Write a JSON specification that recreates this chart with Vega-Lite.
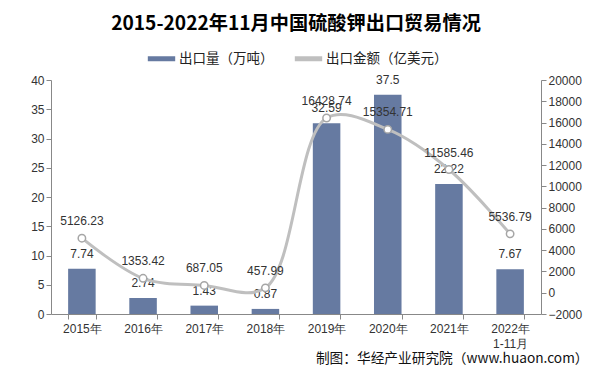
{
  "$schema": "https://vega.github.io/schema/vega-lite/v6.json",
  "width": 490,
  "height": 234,
  "padding": {"left": 30, "right": 10, "top": 14, "bottom": 6},
  "background": "white",
  "title": {
    "text": "2015-2022年11月中国硫酸钾出口贸易情况",
    "font": "Noto Sans CJK SC",
    "fontSize": 19.2,
    "fontWeight": "bold",
    "color": "#000000",
    "anchor": "middle",
    "offset": 8
  },
  "data": {
    "values": [
      {"year": "2015年", "vol": 7.74, "amt": 5126.23, "volLabel": "7.74", "amtLabel": "5126.23"},
      {"year": "2016年", "vol": 2.74, "amt": 1353.42, "volLabel": "2.74", "amtLabel": "1353.42"},
      {"year": "2017年", "vol": 1.43, "amt": 687.05, "volLabel": "1.43", "amtLabel": "687.05"},
      {"year": "2018年", "vol": 0.87, "amt": 457.99, "volLabel": "0.87", "amtLabel": "457.99"},
      {"year": "2019年", "vol": 32.59, "amt": 16428.74, "volLabel": "32.59", "amtLabel": "16428.74"},
      {"year": "2020年", "vol": 37.5, "amt": 15354.71, "volLabel": "37.5", "amtLabel": "15354.71"},
      {"year": "2021年", "vol": 22.22, "amt": 11585.46, "volLabel": "22.22", "amtLabel": "11585.46"},
      {"year": "2022年\n1-11月", "vol": 7.67, "amt": 5536.79, "volLabel": "7.67", "amtLabel": "5536.79"}
    ]
  },
  "encoding": {
    "x": {
      "field": "year",
      "type": "nominal",
      "sort": null,
      "scale": {"paddingInner": 0.55, "paddingOuter": 0.28},
      "axis": {
        "labelAngle": 0,
        "labelExpr": "split(datum.label, '\\n')",
        "labelFont": "Liberation Sans",
        "labelFontSize": 12,
        "labelColor": "#333333",
        "labelLineHeight": 15,
        "labelPadding": 4,
        "domainColor": "#888888",
        "tickColor": "#888888",
        "tickBand": "extent",
        "ticks": true,
        "tickSize": 5,
        "title": "制图：华经产业研究院（www.huaon.com）",
        "titleFont": "Noto Sans CJK SC",
        "titleFontSize": 13.7,
        "titleFontWeight": "normal",
        "titleColor": "#111111",
        "titleAnchor": "end",
        "titleAlign": "right",
        "titleX": 537,
        "titlePadding": 2
      }
    }
  },
  "layer": [
    {
      "mark": {"type": "bar", "color": "#667AA1"},
      "encoding": {
        "y": {
          "field": "vol",
          "type": "quantitative",
          "scale": {"domain": [0, 40], "nice": false, "zero": false},
          "axis": {
            "values": [0, 5, 10, 15, 20, 25, 30, 35, 40],
            "labelOverlap": false,
            "grid": false,
            "title": null,
            "labelFont": "Liberation Sans",
            "labelFontSize": 12,
            "labelColor": "#333333",
            "domainColor": "#888888",
            "tickColor": "#888888"
          }
        },
        "color": {
          "datum": "出口量（万吨）",
          "type": "nominal",
          "scale": {"domain": ["出口量（万吨）", "出口金额（亿美元）"], "range": ["#667AA1", "#BFBFBF"]},
          "legend": {
            "orient": "none",
            "legendX": 94,
            "legendY": -38,
            "direction": "horizontal",
            "title": null,
            "symbolType": "stroke",
            "symbolStrokeWidth": 5,
            "symbolSize": 750,
            "labelFont": "Noto Sans CJK SC",
            "labelFontSize": 13.5,
            "labelColor": "#222222",
            "labelOffset": 1,
            "columnPadding": 10
          }
        }
      }
    },
    {
      "mark": {"type": "text", "baseline": "bottom", "dy": -8, "font": "Liberation Sans", "fontSize": 12, "color": "#333333"},
      "encoding": {
        "y": {"field": "vol", "type": "quantitative", "scale": {"domain": [0, 40], "nice": false, "zero": false}, "axis": null},
        "text": {"field": "volLabel"}
      }
    },
    {
      "mark": {"type": "line", "interpolate": "catmull-rom", "strokeWidth": 3, "color": "#BFBFBF"},
      "encoding": {
        "y": {
          "field": "amt",
          "type": "quantitative",
          "scale": {"domain": [-2000, 20000], "nice": false, "zero": false},
          "axis": {
            "orient": "right",
            "values": [-2000, 0, 2000, 4000, 6000, 8000, 10000, 12000, 14000, 16000, 18000, 20000],
            "labelOverlap": false,
            "format": "d",
            "grid": false,
            "title": null,
            "labelFont": "Liberation Sans",
            "labelFontSize": 12,
            "labelColor": "#333333",
            "domainColor": "#888888",
            "tickColor": "#888888"
          }
        },
        "color": {"datum": "出口金额（亿美元）", "type": "nominal"}
      }
    },
    {
      "mark": {"type": "point", "filled": true, "fill": "white", "stroke": "#A6A6A6", "strokeWidth": 1.5, "size": 55, "opacity": 1},
      "encoding": {
        "y": {"field": "amt", "type": "quantitative", "scale": {"domain": [-2000, 20000], "nice": false, "zero": false}, "axis": null}
      }
    },
    {
      "mark": {"type": "text", "baseline": "bottom", "dy": -10, "font": "Liberation Sans", "fontSize": 12, "color": "#333333"},
      "encoding": {
        "y": {"field": "amt", "type": "quantitative", "scale": {"domain": [-2000, 20000], "nice": false, "zero": false}, "axis": null},
        "text": {"field": "amtLabel"}
      }
    }
  ],
  "resolve": {"scale": {"y": "independent"}},
  "config": {
    "view": {"stroke": null},
    "font": "Liberation Sans"
  }
}
